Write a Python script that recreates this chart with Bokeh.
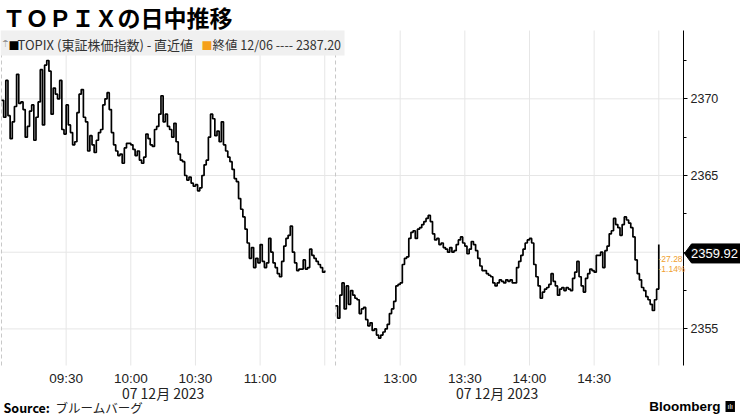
from bokeh.plotting import figure
from bokeh.models import (Range1d, FixedTicker, SingleIntervalTicker, Label, BoxAnnotation,
                          LinearAxis)
from bokeh.embed import file_html
from bokeh.resources import INLINE

# ---- data ----
# morning session: one value per minute from 09:00 to 11:30
am_values = [
    2369.9, 2368.8, 2371.2, 2368.9, 2367.4, 2368.5, 2369.5, 2371.6, 2369.7, 2369.8,
    2369.3, 2367.5, 2368.2, 2369.2, 2369.6, 2367.3, 2368.8, 2369.8, 2371.9, 2368.3,
    2372.2, 2372.5, 2371.8, 2369.0, 2370.7, 2370.3, 2370.0, 2371.2, 2368.0, 2367.7,
    2369.6, 2368.3, 2367.8, 2367.0, 2367.2, 2369.1, 2370.3, 2370.6, 2368.8, 2368.5,
    2366.6, 2367.6, 2367.0, 2366.5, 2367.3, 2367.8, 2368.0, 2369.6, 2370.0, 2370.4,
    2369.3, 2367.8, 2367.0, 2366.6, 2366.3, 2366.4, 2365.8, 2366.8, 2367.1, 2367.1,
    2367.0, 2366.7, 2366.3, 2366.6, 2366.0, 2365.8, 2366.2, 2367.7, 2367.4, 2367.0,
    2366.9, 2368.0, 2368.2, 2369.0, 2370.2, 2368.5, 2369.0, 2368.2, 2368.0, 2367.5,
    2368.4, 2367.2, 2366.4, 2366.0, 2365.9, 2365.0, 2364.7, 2364.9, 2364.5, 2364.3,
    2364.4, 2364.0, 2364.2, 2365.0, 2365.7, 2366.0, 2367.5, 2369.0, 2368.7, 2367.6,
    2367.9, 2367.2, 2368.5, 2367.0, 2366.6, 2366.2, 2365.9, 2365.4, 2364.8, 2364.6,
    2363.5, 2362.8, 2362.3, 2361.5, 2360.6, 2359.6, 2360.3, 2359.0, 2359.6, 2359.3,
    2360.5, 2359.4, 2359.0, 2359.3, 2360.9, 2360.0, 2359.3, 2359.0, 2358.6, 2358.4,
    2359.4, 2360.4, 2360.9, 2361.1, 2361.7, 2360.0, 2359.3, 2358.8, 2358.9, 2358.9,
    2359.5, 2358.9, 2359.0, 2360.2, 2359.8, 2359.6, 2359.4, 2359.2, 2359.0, 2358.7,
    2358.8,
]
# afternoon session: one value per minute from 12:30 to 15:00
pm_values = [
    2356.5, 2355.7, 2357.2, 2358.0, 2356.3, 2357.8, 2356.6, 2357.5, 2357.2, 2357.0,
    2356.9, 2356.0, 2356.3, 2356.4, 2355.6, 2355.2, 2355.4, 2354.9, 2355.0, 2354.6,
    2354.4, 2354.6, 2354.8, 2355.0, 2355.3, 2356.0, 2356.3, 2356.8, 2357.8, 2357.9,
    2358.0, 2359.2, 2359.6, 2359.7, 2360.9, 2361.3, 2361.4, 2360.9, 2361.5, 2361.6,
    2361.8, 2362.0, 2362.2, 2362.4, 2362.0, 2361.2, 2360.8, 2360.9, 2360.5, 2360.6,
    2360.3, 2360.2, 2360.0, 2360.3, 2360.0, 2360.1, 2360.5, 2360.8, 2361.0, 2360.6,
    2360.4, 2359.9, 2360.2, 2360.7, 2360.5, 2360.1, 2359.6, 2359.1, 2358.8, 2358.8,
    2358.6, 2358.5, 2358.4, 2358.0, 2357.8, 2358.0, 2358.2, 2358.1, 2358.0, 2358.2,
    2358.1, 2358.2, 2358.0, 2358.0, 2359.0, 2359.4, 2359.8, 2360.2, 2360.6, 2360.8,
    2360.9, 2360.6, 2359.2, 2358.4, 2357.8, 2357.0, 2357.4, 2357.6, 2357.7, 2357.9,
    2358.6, 2358.1, 2357.8, 2357.2, 2357.6, 2357.7, 2357.5, 2357.7, 2357.6, 2357.5,
    2358.3, 2358.7, 2359.4, 2358.4, 2357.8, 2357.4, 2358.3, 2358.6, 2358.9, 2358.8,
    2358.7, 2359.8, 2359.8, 2360.0, 2359.0, 2360.1, 2360.4, 2361.2, 2361.4, 2362.2,
    2361.8, 2361.6, 2361.1, 2361.8, 2362.3, 2362.1, 2361.9, 2361.6, 2361.0, 2359.5,
    2358.6, 2358.2, 2357.7, 2357.5, 2357.1, 2356.9, 2356.6, 2356.2, 2356.9, 2357.6,
    2360.5,
]
last_value = 2359.92
last_text = "2359.92"
change_text = "-27.28"
change_pct_text = "-1.14%"
legend_series = "TOPIX (東証株価指数) - 直近値"
legend_prev = "終値 12/06 ---- 2387.20"
date_label = "07 12月 2023"
title_text = "ＴＯＰＩＸの日中推移"

# x axis: minutes after 09:00; lunch break compressed to 5 minutes
PM_OFFSET = 155
am_x = list(range(len(am_values)))
pm_x = [PM_OFFSET + i for i in range(len(pm_values))] + [PM_OFFSET + len(pm_values) - 1]
pm_y = pm_values + [last_value]

tick_positions = [30, 60, 90, 120, 150, 185, 215, 245, 275, 305]
tick_labels = ["09:30", "10:00", "10:30", "11:00", "", "13:00", "13:30", "14:00", "14:30", ""]
session_starts = [0, PM_OFFSET]
date_positions = [75, PM_OFFSET + 75]
y_grid_values = [2355, 2360, 2365, 2370]

# ---- canvas / ranges (frame covers the whole canvas) ----
W, H = 740, 416
X_START, X_END = -0.464, 342.92
Y_START, Y_END = 2349.29, 2376.41


def sx(px):
    return X_START + px * (X_END - X_START) / W


def sy(py):
    return Y_END - py * (Y_END - Y_START) / H


px_per_unit = H / (Y_END - Y_START)

# chart box
CX0, CX1 = X_START, sx(683)
CY0, CY1 = sy(365), sy(30)

CJK = "Noto Sans CJK JP"
NUM = "Liberation Sans"
GRID = "#e6e6e6"

p = figure(width=W, height=H, x_range=Range1d(X_START, X_END), y_range=Range1d(Y_START, Y_END),
           output_backend="svg", toolbar_location=None, x_axis_location=None,
           y_axis_location=None, min_border=0, outline_line_color=None,
           background_fill_color="white", border_fill_color="white")
p.grid.visible = False

# grid lines limited to the chart box
p.segment(x0=[CX0] * len(y_grid_values), y0=y_grid_values, x1=[CX1] * len(y_grid_values),
          y1=y_grid_values, line_color=GRID, line_width=1)
p.segment(x0=tick_positions, y0=[CY0] * len(tick_positions), x1=tick_positions,
          y1=[CY1] * len(tick_positions), line_color=GRID, line_width=1)
p.segment(x0=session_starts, y0=[CY0] * 2, x1=session_starts, y1=[CY1] * 2,
          line_color="#c8c8c8", line_dash="4 3", line_width=1)

# axes at fixed locations
xaxis = LinearAxis(fixed_location=CY0, bounds=(CX0, CX1), ticker=FixedTicker(ticks=tick_positions),
                   major_label_overrides={k: v for k, v in zip(tick_positions, tick_labels)},
                   axis_line_color=None, major_tick_line_color=None, minor_tick_line_color=None,
                   major_tick_in=0, major_tick_out=0, minor_tick_in=0, minor_tick_out=0,
                   major_label_text_font=NUM, major_label_text_font_size="13.5px",
                   major_label_text_color="#222222", major_label_standoff=5)
p.add_layout(xaxis, "below")

yaxis = LinearAxis(fixed_location=CX1, bounds=(CY0, CY1),
                   ticker=SingleIntervalTicker(interval=5, num_minor_ticks=2),
                   axis_line_color="black", axis_line_width=1,
                   major_tick_line_color="black", major_tick_in=0, major_tick_out=4,
                   minor_tick_line_color="black", minor_tick_in=0, minor_tick_out=3,
                   major_label_text_font=NUM, major_label_text_font_size="12.5px",
                   major_label_text_color="#222222", major_label_standoff=3)
p.add_layout(yaxis, "right")

# price line
p.step(am_x, am_values, mode="after", line_color="black", line_width=1.7)
p.step(pm_x, pm_y, mode="after", line_color="black", line_width=1.7)

# legend bar
p.add_layout(BoxAnnotation(left=CX0, right=sx(344), top=CY1, bottom=sy(55),
                           fill_color="#f0f0f0", fill_alpha=1.0, line_color=None))
ly = sy(44)
p.add_layout(Label(x=sx(2), y=ly, text="⍑", text_font="DejaVu Sans", text_font_size="8px",
                   text_color="#999999", text_baseline="middle"))
p.add_layout(Label(x=sx(8), y=ly, text="■", text_font=CJK, text_font_size="11px",
                   text_color="black", text_baseline="middle"))
p.add_layout(Label(x=sx(17), y=ly, text=legend_series, text_font=CJK, text_font_size="13px",
                   text_color="#333333", text_baseline="middle"))
p.add_layout(Label(x=sx(201), y=ly, text="■", text_font=CJK, text_font_size="11px",
                   text_color="#f5a01a", text_baseline="middle"))
p.add_layout(Label(x=sx(212), y=ly, text=legend_prev, text_font=CJK, text_font_size="12.5px",
                   text_color="#333333", text_baseline="middle"))

# title
p.add_layout(Label(x=sx(2), y=sy(16), text=title_text, text_font=CJK,
                   text_font_size="23px", text_font_style="bold", text_color="black",
                   text_baseline="middle"))

# date labels under the time axis
for dx in date_positions:
    p.add_layout(Label(x=dx, y=sy(392), text=date_label, text_font=CJK,
                       text_font_size="14px", text_color="#222222", text_align="center",
                       text_baseline="middle"))

# source and brand
p.add_layout(Label(x=sx(3), y=sy(407), text="Source:", text_font=CJK, text_font_size="12.5px",
                   text_font_style="bold", text_color="black", text_baseline="middle"))
p.add_layout(Label(x=sx(55), y=sy(407), text="ブルームバーグ", text_font=CJK,
                   text_font_size="12.5px", text_color="#222222", text_baseline="middle"))
p.add_layout(Label(x=sx(720), y=sy(406), text="Bloomberg", text_font=NUM,
                   text_font_size="13.5px", text_font_style="bold", text_color="black",
                   text_align="right", text_baseline="middle"))
p.add_layout(Label(x=sx(725), y=sy(406), text="ılı", text_font=NUM, text_font_size="7px",
                   text_color="white", background_fill_color="black", padding=2,
                   text_baseline="middle"))

# last value callout
half = 9.5 / px_per_unit
p.patch(x=[sx(684), sx(691), sx(740), sx(740), sx(691)],
        y=[last_value, last_value + half, last_value + half, last_value - half, last_value - half],
        fill_color="black", line_color="black")
p.add_layout(Label(x=sx(714), y=last_value, text=last_text, text_font=NUM,
                   text_font_size="13px", text_color="white", text_align="center",
                   text_baseline="middle"))

# change vs previous close
p.add_layout(Label(x=sx(658), y=last_value - 5.4 / px_per_unit, text=change_text, text_font=NUM,
                   text_font_size="8.5px", text_color="#f0a030", text_baseline="middle"))
p.add_layout(Label(x=sx(658), y=last_value - 15.4 / px_per_unit, text=change_pct_text,
                   text_font=NUM, text_font_size="8.5px", text_color="#f0a030",
                   text_baseline="middle"))

open("out.html", "w").write(file_html(p, INLINE))
